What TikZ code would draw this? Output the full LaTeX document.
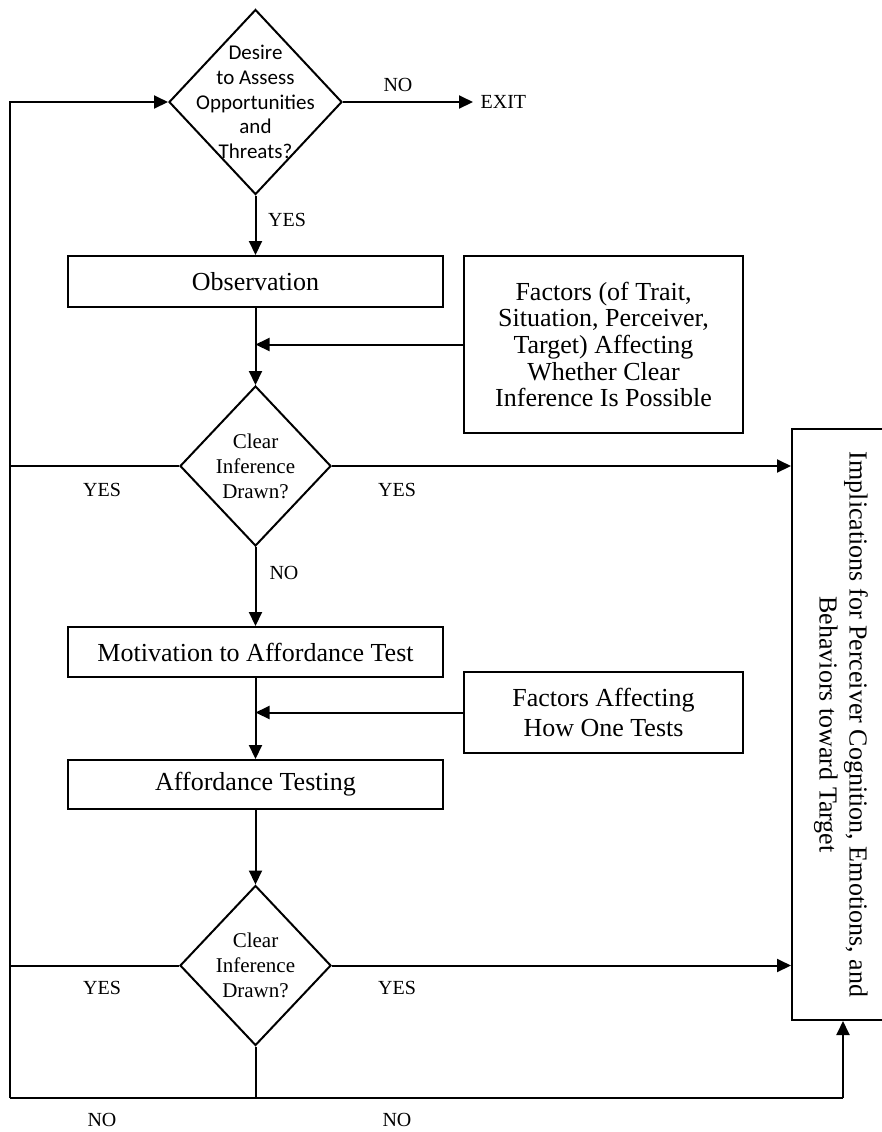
\documentclass[tikz,border=0pt]{standalone}
\usepackage{fontspec}
\setmainfont{Liberation Serif}
\newfontfamily\calibfont{Carlito}
\usetikzlibrary{calc,shapes.geometric,arrows.meta}

\begin{document}
\begin{tikzpicture}[x=0.5pt,y=-0.5pt,line width=1pt,>={Triangle[length=7pt,width=6.5pt]},
	box/.style={draw,rectangle,inner sep=0pt,align=center,font=\fontsize{13}{13.3}\selectfont},
	dia/.style={draw,diamond,inner sep=0pt,minimum width=75.5pt,minimum height=80pt},
	dtext/.style={align=center,inner sep=0pt,font=\fontsize{10.5}{12.5}\selectfont},
	lbl/.style={font=\fontsize{10}{12}\selectfont}]
				\useasboundingbox (0,0) rectangle (882,1132);
				
				\coordinate (lpL) at (10,1098);
				\coordinate (lpM) at (255.5,1098);
				\coordinate (lpR) at (843,1098);
				
				% decisions
				\node[dia,minimum width=86.5pt,minimum height=92.5pt] (dA) at (255.5,102) {};
				\node[dtext,font=\calibfont\fontsize{10.5}{12.4}\selectfont] (dAtext) at (dA) {Desire\\to Assess\\Opportunities\\and\\Threats?};
				\node[dia] (dB) at (255.5,466) {};
				\node[dtext] (dBtext) at (dB) {Clear\\Inference\\Drawn?};
				\node[dia] (dC) at (255.5,965.5) {};
				\node[dtext] (dCtext) at (dC) {Clear\\Inference\\Drawn?};
				
				% boxes
				\node[box,minimum width=187.5pt,minimum height=25.5pt] (obs) at (255.5,281.5) {Observation};
				\node[box,minimum width=187.5pt,minimum height=25pt] (mot) at (255.5,652) {Motivation to Affordance Test};
				\node[box,minimum width=187.5pt,minimum height=24.5pt] (aff) at (255.5,784.5) {Affordance Testing};
				\node[box,minimum width=139.5pt,minimum height=88.5pt] (fac1) at (603.5,344.5)
					{Factors (of Trait,\\Situation, Perceiver,\\Target) Affecting\\Whether Clear\\Inference Is Possible};
				\node[box,minimum width=139.5pt,minimum height=40.5pt,font=\fontsize{13}{15}\selectfont] (fac2) at (603.5,712.5)
					{Factors Affecting\\How One Tests};
				\node[box,rotate=-90,minimum width=295.5pt,minimum height=49pt,font=\fontsize{13}{15}\selectfont] (impl) at (841,724.5)
					{Implications for Perceiver Cognition, Emotions, and\\Behaviors toward Target};
				\node[lbl,anchor=west] (exit) at (473,102) {EXIT};
				
				% YES / NO
				\foreach \x/\y/\t/\n in {398/85/NO/nA,287/220/YES/yA,102/490/YES/yBl,397/490/YES/yBr,284/573/NO/nB,
					102/988/YES/yCl,397/988/YES/yCr,102/1120/NO/nCl,397/1120/NO/nCr}{
					\node[lbl] (\n) at (\x,\y) {\t};}
				
				% main line
				\draw[->] (dA.east) -- (exit.west);
				\draw[->] (dA.south) -- (obs.north);
				\draw[->] (obs.south) -- (dB.north);
				\draw[->] (dB.south) -- (mot.north);
				\draw[->] (mot.south) -- (aff.north);
				\draw[->] (aff.south) -- (dC.north);
				
				\foreach \f/\b in {fac1/obs,fac2/mot}{
					\draw[->] (\f.west) -- (\f.west -| \b.south);}
				
				\foreach \d in {dB,dC}{
					\draw[->] (\d.east) -- (\d.east -| impl.south);
					\draw (\d.west) -- (\d.west -| lpL);}
				
				% loop back and bottom
				\draw (dC.south) -- (lpM);
				\draw[->] (lpL) |- (dA.west);
				\draw (lpL) -- (lpR);
				\draw[->] (lpR) -- (lpR |- impl.east);
			\end{tikzpicture}
\end{document}
